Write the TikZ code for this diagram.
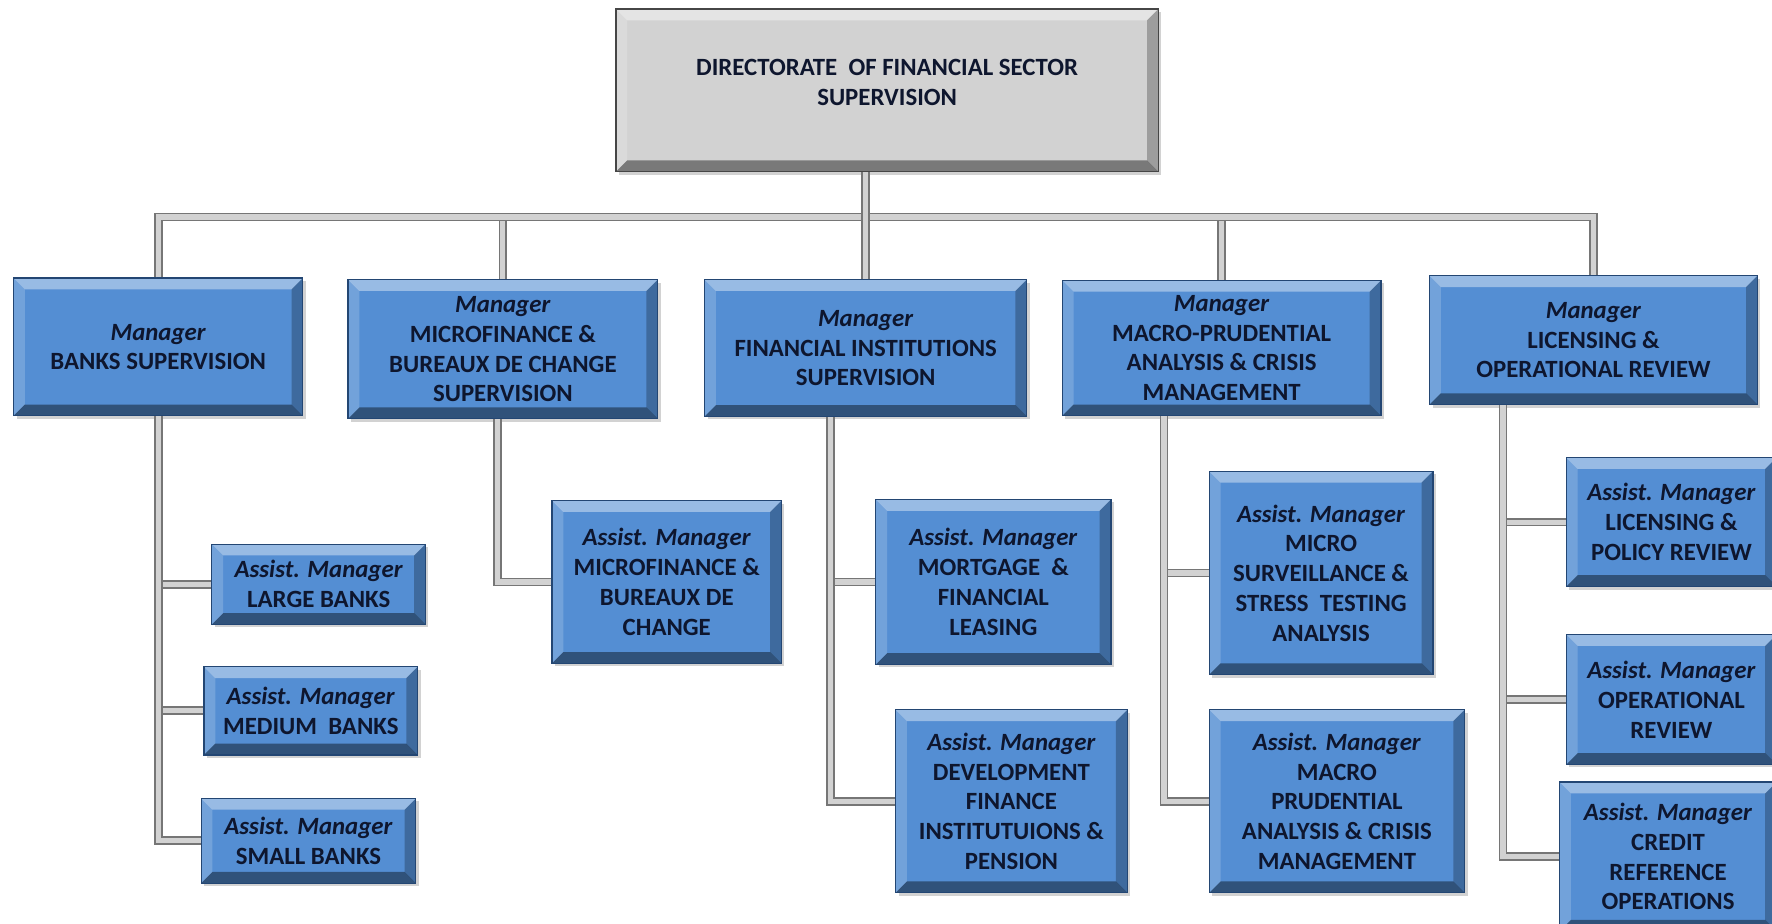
\documentclass[tikz,border=0pt]{standalone}
\usepackage{fontspec}
\setmainfont{Carlito}
\usetikzlibrary{calc,shadows}

\definecolor{boxblue}{RGB}{84,142,211}
\definecolor{boxedge}{RGB}{35,70,115}
\definecolor{boxgrey}{RGB}{210,210,210}
\definecolor{ink}{RGB}{14,22,46}
\definecolor{pipegrey}{RGB}{118,118,118}
\definecolor{pipelight}{RGB}{210,210,210}

\newcommand{\bevelfaces}{%
  \fill[white,opacity=.4] (path picture bounding box.north west) -- (path picture bounding box.north east) -- ($(path picture bounding box.north east)+(-10,10)$) -- ($(path picture bounding box.north west)+(10,10)$) -- cycle;
  \fill[white,opacity=.18] (path picture bounding box.north west) -- ($(path picture bounding box.north west)+(10,10)$) -- ($(path picture bounding box.south west)+(10,-10)$) -- (path picture bounding box.south west) -- cycle;
  \fill[black,opacity=.25] (path picture bounding box.north east) -- (path picture bounding box.south east) -- ($(path picture bounding box.south east)+(-10,-10)$) -- ($(path picture bounding box.north east)+(-10,10)$) -- cycle;
  \fill[black,opacity=.42] (path picture bounding box.south west) -- ($(path picture bounding box.south west)+(10,-10)$) -- ($(path picture bounding box.south east)+(-10,-10)$) -- (path picture bounding box.south east) -- cycle;
}

\tikzset{
  sz/.style 2 args={minimum width=#1*0.02cm, minimum height=#2*0.02cm},
  mgr/.style={rectangle, fill=boxblue, draw=boxedge, line width=0.6pt, text=ink, align=center,
    inner sep=0pt, font=\fontsize{12.5}{15}\selectfont\bfseries, path picture={\bevelfaces},
    drop shadow={opacity=.35,shadow xshift=1.5pt,shadow yshift=-1.5pt}},
  topbox/.style={mgr, fill=boxgrey, draw=gray!55!black},
  orgline/.style={draw=pipegrey, line width=0.9pt, double=pipelight, double distance=2.6pt},
}

\begin{document}
\begin{tikzpicture}[x=0.02cm,y=-0.02cm]
\useasboundingbox (0,0) rectangle (1568,817);
\clip (0,0) rectangle (1568,817);
\fill[white] (0,0) rectangle (1568,817);

\node[topbox,sz={480}{144}] (d0) at (785,80) {DIRECTORATE\ \ OF FINANCIAL SECTOR\\SUPERVISION\\[-7pt]\mbox{}};

\node[mgr,sz={256}{122}] (m1) at (140,307) {\textit{Manager}\\BANKS SUPERVISION};
\node[mgr,sz={274}{123}] (m2) at (445,309) {\textit{Manager}\\MICROFINANCE \&\\BUREAUX DE CHANGE\\SUPERVISION};
\node[mgr,sz={285}{121}] (m3) at (766,308) {\textit{Manager}\\FINANCIAL INSTITUTIONS\\SUPERVISION};
\node[mgr,sz={282}{120}] (m4) at (1081,308) {\textit{Manager}\\MACRO-PRUDENTIAL\\ANALYSIS \& CRISIS\\MANAGEMENT};
\node[mgr,sz={290}{114}] (m5) at (1410,301) {\textit{Manager}\\LICENSING \&\\OPERATIONAL REVIEW};

\node[mgr,sz={189}{71}] (a11) at (282,517) {\textit{Assist. Manager}\\LARGE BANKS};
\node[mgr,sz={189}{78}] (a12) at (275,629) {\textit{Assist. Manager}\\MEDIUM\ \ BANKS};
\node[mgr,sz={190}{75}] (a13) at (273,744) {\textit{Assist. Manager}\\SMALL BANKS};
\node[mgr,sz={203}{144}] (a21) at (590,515) {\textit{Assist. Manager}\\MICROFINANCE \&\\BUREAUX DE\\CHANGE};
\node[mgr,sz={208}{146}] (a31) at (879,515) {\textit{Assist. Manager}\\MORTGAGE\ \ \&\\FINANCIAL\\LEASING};
\node[mgr,sz={205}{162}] (a32) at (895,709) {\textit{Assist. Manager}\\DEVELOPMENT\\FINANCE\\INSTITUTUIONS \&\\PENSION};
\node[mgr,sz={198}{180}] (a41) at (1169,507) {\textit{Assist. Manager}\\MICRO\\SURVEILLANCE \&\\STRESS\ \ TESTING\\ANALYSIS};
\node[mgr,sz={226}{162}] (a42) at (1183,709) {\textit{Assist. Manager}\\MACRO\\PRUDENTIAL\\ANALYSIS \& CRISIS\\MANAGEMENT};
\node[mgr,sz={186}{114}] (a51) at (1479,462) {\textit{Assist. Manager}\\LICENSING \&\\POLICY REVIEW};
\node[mgr,sz={186}{115}] (a52) at (1479,619) {\textit{Assist. Manager}\\OPERATIONAL\\REVIEW};
\node[mgr,sz={192}{132}] (a53) at (1476,758) {\textit{Assist. Manager}\\CREDIT\\REFERENCE\\OPERATIONS};

\coordinate (bar) at (0,192);
\coordinate (t2) at (440,0);
\coordinate (t3) at (735,0);
\coordinate (t4) at (1030,0);
\coordinate (t5) at (1330,0);

\draw[orgline] (m1.south |- a11.west) -- (a11.west);
\draw[orgline] (m1.south |- a12.west) -- (a12.west);
\draw[orgline] (t3 |- a31.west) -- (a31.west);
\draw[orgline] (t4 |- a41.west) -- (a41.west);
\draw[orgline] (t5 |- a51.west) -- (a51.west);
\draw[orgline] (t5 |- a52.west) -- (a52.west);

\draw[orgline] (m1.south) |- (a13.west);
\draw[orgline] (m2.south -| t2) |- (a21.west);
\draw[orgline] (m3.south -| t3) |- (a32.west);
\draw[orgline] (m4.south -| t4) |- (a42.west);
\draw[orgline] (m5.south -| t5) |- (a53.west);

\draw[orgline] (m2.north) -- (m2.north |- bar);
\draw[orgline] (m4.north) -- (m4.north |- bar);
\draw[orgline] (m1.north) -- (m1.north |- bar) -- (m5.north |- bar) -- (m5.north);
\draw[orgline] (d0.south -| m3.north) -- (m3.north);
\end{tikzpicture}
\end{document}
